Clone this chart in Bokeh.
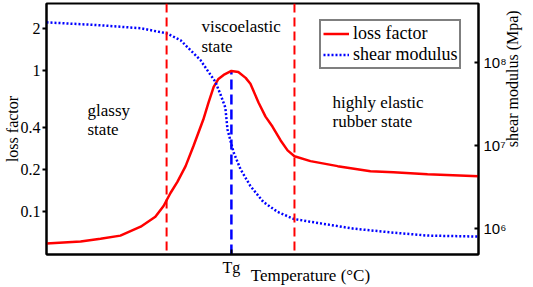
from math import log10, pi
from bokeh.plotting import figure
from bokeh.models import Range1d, LogScale, LogAxis, LinearAxis, FixedTicker, Label, Span
from bokeh.embed import file_html
from bokeh.resources import INLINE

# ---- data ----
temperature = [0, 7.9, 12.5, 17.1, 21.8, 25.2, 27.1, 28.7, 30.3, 32.2,
               34.0, 36.3, 37.5, 38.7, 39.8, 41.0, 42.8, 44.4, 46.1, 47.2,
               49.1, 50.7, 52.3, 54.2, 55.8, 57.4, 61.1, 67.4, 75.0, 80.3,
               88.2, 100]
loss_factor = [0.0595, 0.0615, 0.0645, 0.0678, 0.0784, 0.0922, 0.110, 0.136, 0.163, 0.211,
               0.292, 0.452, 0.595, 0.771, 0.878, 0.937, 1.0, 0.984, 0.893, 0.810,
               0.595, 0.474, 0.403, 0.321, 0.273, 0.248, 0.229, 0.211, 0.194, 0.191,
               0.185, 0.179]
temperature_mod = [0, 12.5, 21.8, 27.8, 31.0, 33.3, 35.6, 37.5, 39.1, 40.3,
                   41.4, 41.9, 43.3, 44.9, 47.2, 50.2, 53.5, 57.2, 61.1, 71.1,
                   80.3, 88.2, 100]
shear_modulus = [2.99e8, 2.76e8, 2.54e8, 2.21e8, 1.83e8, 1.39e8, 1.06e8, 7.6e7, 5.78e7, 4.05e7,
                 2.83e7, 1.55e7, 8.26e6, 5.18e6, 3.25e6, 2.09e6, 1.59e6, 1.31e6, 1.21e6, 1.0e6,
                 8.96e5, 8.26e5, 8.04e5]
transitions = [27.8, 57.4]
tg = 42.8
loss_ticks = [0.1, 0.2, 0.4, 1, 2]
loss_tick_labels = ["0.1", "0.2", "0.4", "1", "2"]
mod_ticks = [1000000, 10000000, 100000000]
mod_tick_labels = ["10\u2076", "10\u2077", "10\u2078"]
x_title = "Temperature (\u00b0C)"
x_title_pos = 61.1
y2_title = "shear modulus (Mpa)"

SERIF = "Liberation Serif"
SANS = "Liberation Sans"

X0, X1 = 0, 100
Y0, Y1 = 0.0498, 3.01
M0, M1 = 10 ** 5.69, 10 ** 8.702

# frame geometry in figure pixels (used only to place the free text labels)
FL, FR, FT, FB = 46, 478, 3, 256


def dx(px):
    return X0 + (px - FL) / (FR - FL) * (X1 - X0)


def dy(py):
    ly0, ly1 = log10(Y0), log10(Y1)
    return 10 ** (ly1 - (py - FT) / (FB - FT) * (ly1 - ly0))


p = figure(width=533, height=287, x_range=Range1d(X0, X1), y_range=Range1d(Y0, Y1),
           y_axis_type="log", output_backend="svg", toolbar_location=None,
           min_border_left=46, min_border_right=55, min_border_top=3, min_border_bottom=31)
p.background_fill_color = "white"
p.border_fill_color = "white"
p.xgrid.visible = False
p.ygrid.visible = False
p.outline_line_color = "black"
p.outline_line_width = 2
p.outline_line_alpha = 1

# left axis
la = p.left[0]
la.ticker = FixedTicker(ticks=loss_ticks)
la.major_label_overrides = dict(zip(loss_ticks, loss_tick_labels))
la.minor_tick_line_color = None
la.major_tick_out = 4
la.major_tick_in = 0
la.major_tick_line_width = 2
la.axis_line_width = 2
la.major_label_standoff = 2
la.major_label_text_font = SERIF
la.major_label_text_font_size = "16px"
la.major_label_text_color = "black"
la.axis_label = "loss factor"
la.axis_label_standoff = -3
la.axis_label_text_font = SERIF
la.axis_label_text_font_size = "16px"
la.axis_label_text_font_style = "normal"
la.axis_label_text_color = "black"

# bottom axis
ba = p.below[0]
ba.ticker = FixedTicker(ticks=[tg])
ba.major_label_overrides = {tg: "Tg"}
ba.minor_tick_line_color = None
ba.major_tick_in = 5
ba.major_tick_out = 0
ba.major_tick_line_width = 2
ba.axis_line_width = 2
ba.major_label_standoff = 4
ba.major_label_text_font = SERIF
ba.major_label_text_font_size = "16px"
ba.major_label_text_color = "black"

# x title, carried by a bare second bottom axis so that it sits right of "Tg"
ta = LinearAxis(ticker=FixedTicker(ticks=[x_title_pos]))
ta.major_label_overrides = {x_title_pos: x_title}
ta.axis_line_color = None
ta.major_tick_line_color = None
ta.minor_tick_line_color = None
ta.major_tick_in = 0
ta.major_tick_out = 0
ta.major_label_standoff = -13
ta.major_label_text_font = SERIF
ta.major_label_text_font_size = "17px"
ta.major_label_text_color = "black"
p.add_layout(ta, "below")

# right axis
p.extra_y_ranges = {"mod": Range1d(M0, M1)}
p.extra_y_scales = {"mod": LogScale()}
ra = LogAxis(y_range_name="mod", ticker=FixedTicker(ticks=mod_ticks))
ra.major_label_overrides = dict(zip(mod_ticks, mod_tick_labels))
ra.minor_tick_line_color = None
ra.major_tick_in = 4
ra.major_tick_out = 0
ra.major_tick_line_width = 2
ra.axis_line_width = 2
ra.major_label_standoff = 5
ra.major_label_text_font = SANS
ra.major_label_text_font_size = "15px"
ra.major_label_text_color = "black"
p.add_layout(ra, "right")

# right title, carried by a bare second right axis (reads bottom to top)
y2_pos = dy(128)
ya = LogAxis(ticker=FixedTicker(ticks=[y2_pos]))
ya.major_label_overrides = {y2_pos: y2_title}
ya.major_label_orientation = pi / 2
ya.axis_line_color = None
ya.major_tick_line_color = None
ya.minor_tick_line_color = None
ya.major_tick_in = 0
ya.major_tick_out = 0
ya.major_label_standoff = 3
ya.major_label_text_font = SERIF
ya.major_label_text_font_size = "16px"
ya.major_label_text_color = "black"
p.add_layout(ya, "right")

# transition lines
for t in transitions:
    p.add_layout(Span(location=t, dimension="height", line_color="red",
                      line_width=2, line_dash="9 5"))
p.segment(x0=[tg], y0=[Y0], x1=[tg], y1=[max(loss_factor)], line_color="blue",
          line_width=2.5, line_dash="10 5")

# curves
p.line(temperature, loss_factor, line_color="red", line_width=2.5, legend_label="loss factor")
p.line(temperature_mod, shear_modulus, y_range_name="mod", line_color="blue",
       line_width=2.5, line_dash="2 2", legend_label="shear modulus")

lg = p.legend[0]
lg.location = (273, 185)
lg.margin = 0
lg.padding = 2
lg.spacing = 0
lg.label_height = 19
lg.glyph_height = 19
lg.glyph_width = 26
lg.label_standoff = 4
lg.border_line_color = "black"
lg.border_line_width = 2
lg.background_fill_color = "white"
lg.background_fill_alpha = 1
lg.label_text_font = SERIF
lg.label_text_font_size = "18px"
lg.label_text_color = "black"


def add_text(txt, px, py):
    p.add_layout(Label(x=dx(px), y=dy(py), text=txt, text_align="left", text_baseline="middle",
                       text_font=SERIF, text_font_size="17px", text_color="black"))


add_text("glassy", 87, 111)
add_text("state", 87, 130)
add_text("viscoelastic", 201, 26)
add_text("state", 201, 46)
add_text("highly elastic", 332, 103)
add_text("rubber state", 332, 122)

open("out.html", "w").write(file_html(p, INLINE))
